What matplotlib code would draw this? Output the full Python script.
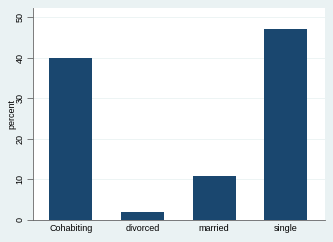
import matplotlib
matplotlib.use("Agg")
import matplotlib.pyplot as plt

categories = ["Cohabiting", "divorced", "married", "single"]
percent = [40.0, 2.0, 10.9, 47.0]
yticks = [0, 10, 20, 30, 40, 50]

bg = "#EAF2F3"
bar_color = "#1A476F"

plt.rcParams["font.family"] = ["Liberation Sans", "DejaVu Sans"]

fig = plt.figure(figsize=(3.33, 2.42), dpi=100)
fig.patch.set_facecolor(bg)
ax = fig.add_axes([0.099, 0.091, 0.877, 0.876])
ax.set_facecolor("white")

x = range(len(categories))
ax.bar(x, percent, width=0.6, color=bar_color, zorder=3)

ax.set_xlim(-0.53, 3.55)
ax.set_ylim(0, 52.2)
ax.set_yticks(yticks)
ax.set_yticklabels([str(t) for t in yticks], rotation=90, va="center", fontsize=6.5)
ax.set_xticks(list(x))
ax.set_xticklabels(categories, fontsize=6.5)
ax.tick_params(axis="x", length=0, pad=3)
ax.tick_params(axis="y", length=4, width=0.6, color="#666666", pad=2)
ax.set_ylabel("percent", fontsize=6.5)
ax.yaxis.set_label_coords(-0.058, 0.5)

ax.grid(axis="y", color=bg, linewidth=0.6, zorder=0)
for s in ["top", "right"]:
    ax.spines[s].set_visible(False)
for s in ["left", "bottom"]:
    ax.spines[s].set_color("#666666")
    ax.spines[s].set_linewidth(0.6)

fig.savefig("out.png", dpi=100, facecolor=bg)
